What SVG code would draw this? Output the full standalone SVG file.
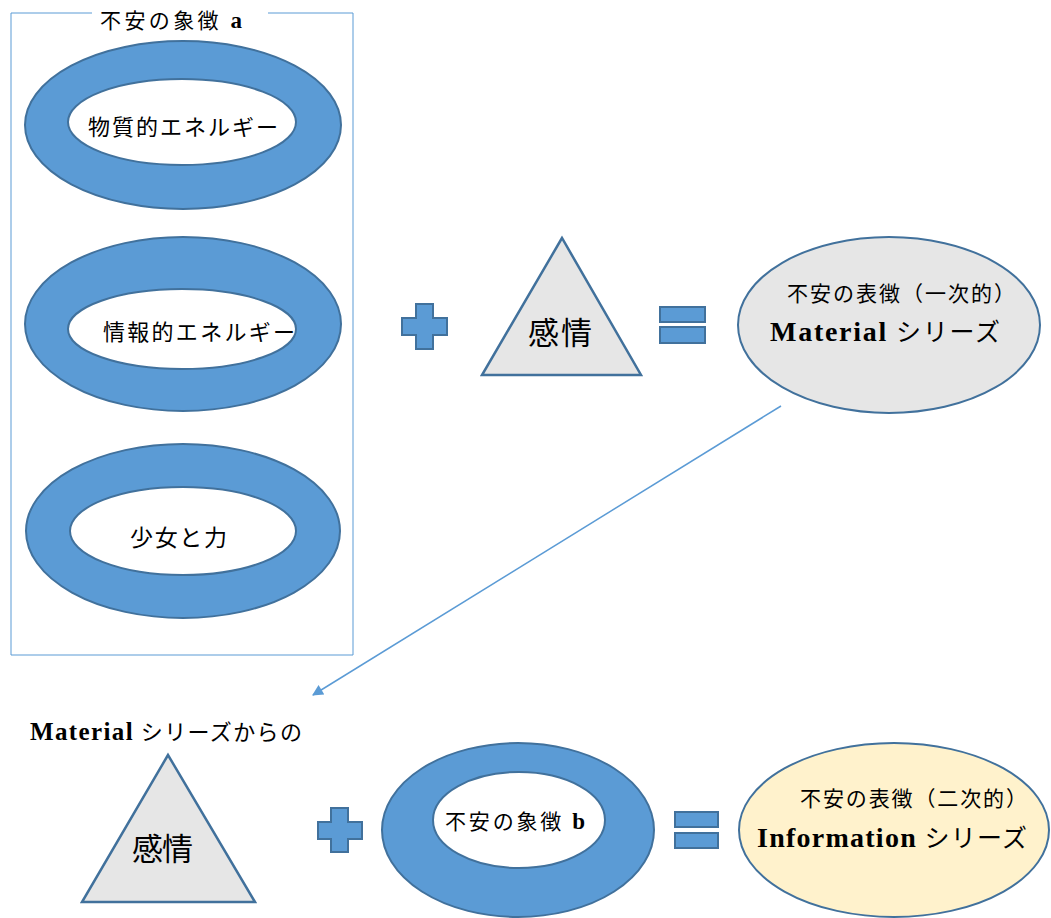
<svg xmlns="http://www.w3.org/2000/svg" width="1051" height="918" viewBox="0 0 1051 918">
<style>
.ring{fill:#5b9bd5;stroke:#41719c;stroke-width:2}
.hole{fill:#ffffff;stroke:#41719c;stroke-width:2}
.tri{fill:#e6e6e6;stroke:#41719c;stroke-width:2.5}
.sym{fill:#5b9bd5;stroke:#41719c;stroke-width:2}
.t{font-family:"Liberation Serif","Noto Sans CJK JP",serif;fill:#000}
.j{font-family:"Noto Sans CJK JP","Noto Sans CJK SC",sans-serif;fill:#000}
.b{font-weight:bold}
.frame{fill:none;stroke:#5b9bd5;stroke-width:1}
</style>
<defs>
<marker id="ah" viewBox="0 0 10 10" refX="9" refY="5" markerWidth="13" markerHeight="11" markerUnits="userSpaceOnUse" orient="auto">
<path d="M0,0 L10,5 L0,10 z" fill="#5b9bd5"/>
</marker>
</defs>
<rect width="1051" height="918" fill="#ffffff"/>
<g id="frame">
<polyline class="frame" points="92,13 11,13 11,655 353,655 353,13 268,13"/>
<text class="t" x="100" y="28" font-size="21" textLength="142" lengthAdjust="spacing">不安の象徴 <tspan class="b" font-size="23">a</tspan></text>
</g>
<g id="ring1">
<ellipse class="ring" cx="183" cy="125" rx="158" ry="84"/>
<ellipse class="hole" cx="182" cy="122" rx="114" ry="43"/>
<text class="j" x="88" y="135" font-size="22" textLength="190" lengthAdjust="spacing">物質的エネルギー</text>
</g>
<g id="ring2">
<ellipse class="ring" cx="183" cy="324" rx="158" ry="87"/>
<ellipse class="hole" cx="182" cy="329" rx="114" ry="40"/>
<text class="j" x="103" y="340" font-size="22" textLength="192" lengthAdjust="spacing">情報的エネルギー</text>
</g>
<g id="ring3">
<ellipse class="ring" cx="183" cy="531" rx="157" ry="87"/>
<ellipse class="hole" cx="183" cy="531" rx="113" ry="44"/>
<text class="j" x="130" y="546" font-size="23" textLength="97" lengthAdjust="spacing">少女と力</text>
</g>
<g id="plus1">
<path class="sym" d="M416,304 H433 V318 H447 V335 H433 V349 H416 V335 H402 V318 H416 Z"/>
</g>
<g id="emotion1">
<polygon class="tri" points="562,238 482,375 641,375"/>
<text class="j" x="528" y="344" font-size="31" textLength="64" lengthAdjust="spacing">感情</text>
</g>
<g id="equals1">
<rect class="sym" x="660" y="307" width="45" height="15"/>
<rect class="sym" x="660" y="327" width="45" height="16"/>
</g>
<g id="material">
<ellipse cx="889" cy="325" rx="151" ry="88" fill="#e6e6e6" stroke="#41719c" stroke-width="2"/>
<text class="t" x="787" y="301" font-size="21" textLength="228" lengthAdjust="spacing">不安の表徴（一次的）</text>
<text class="t" x="770" y="341" font-size="25" textLength="230" lengthAdjust="spacing"><tspan class="b" font-size="28">Material</tspan> シリーズ</text>
</g>
<g id="connectors">
<line x1="781" y1="406" x2="313" y2="695" stroke="#5b9bd5" stroke-width="1.5" marker-end="url(#ah)"/>
</g>
<g id="fromlabel">
<text class="t" x="30" y="740" font-size="22" textLength="272" lengthAdjust="spacing"><tspan class="b" font-size="25">Material</tspan> シリーズからの</text>
</g>
<g id="emotion2">
<polygon class="tri" points="168,755 82,902 255,902"/>
<text class="j" x="132" y="860" font-size="31" textLength="61" lengthAdjust="spacing">感情</text>
</g>
<g id="plus2">
<path class="sym" d="M331,808 H348 V822 H362 V839 H348 V852 H331 V839 H318 V822 H331 Z"/>
</g>
<g id="ringb">
<ellipse class="ring" cx="518" cy="830" rx="136" ry="87"/>
<ellipse class="hole" cx="519" cy="820" rx="86" ry="48"/>
<text class="t" x="445" y="829" font-size="21" textLength="140" lengthAdjust="spacing">不安の象徴 <tspan class="b" font-size="23">b</tspan></text>
</g>
<g id="equals2">
<rect class="sym" x="675" y="812" width="43" height="15"/>
<rect class="sym" x="675" y="833" width="43" height="15"/>
</g>
<g id="information">
<ellipse cx="894" cy="830" rx="155" ry="87" fill="#fff2cc" stroke="#41719c" stroke-width="2"/>
<text class="t" x="800" y="806" font-size="21" textLength="227" lengthAdjust="spacing">不安の表徴（二次的）</text>
<text class="t" x="757" y="847" font-size="25" textLength="270" lengthAdjust="spacing"><tspan class="b" font-size="28">Information</tspan> シリーズ</text>
</g>
</svg>
